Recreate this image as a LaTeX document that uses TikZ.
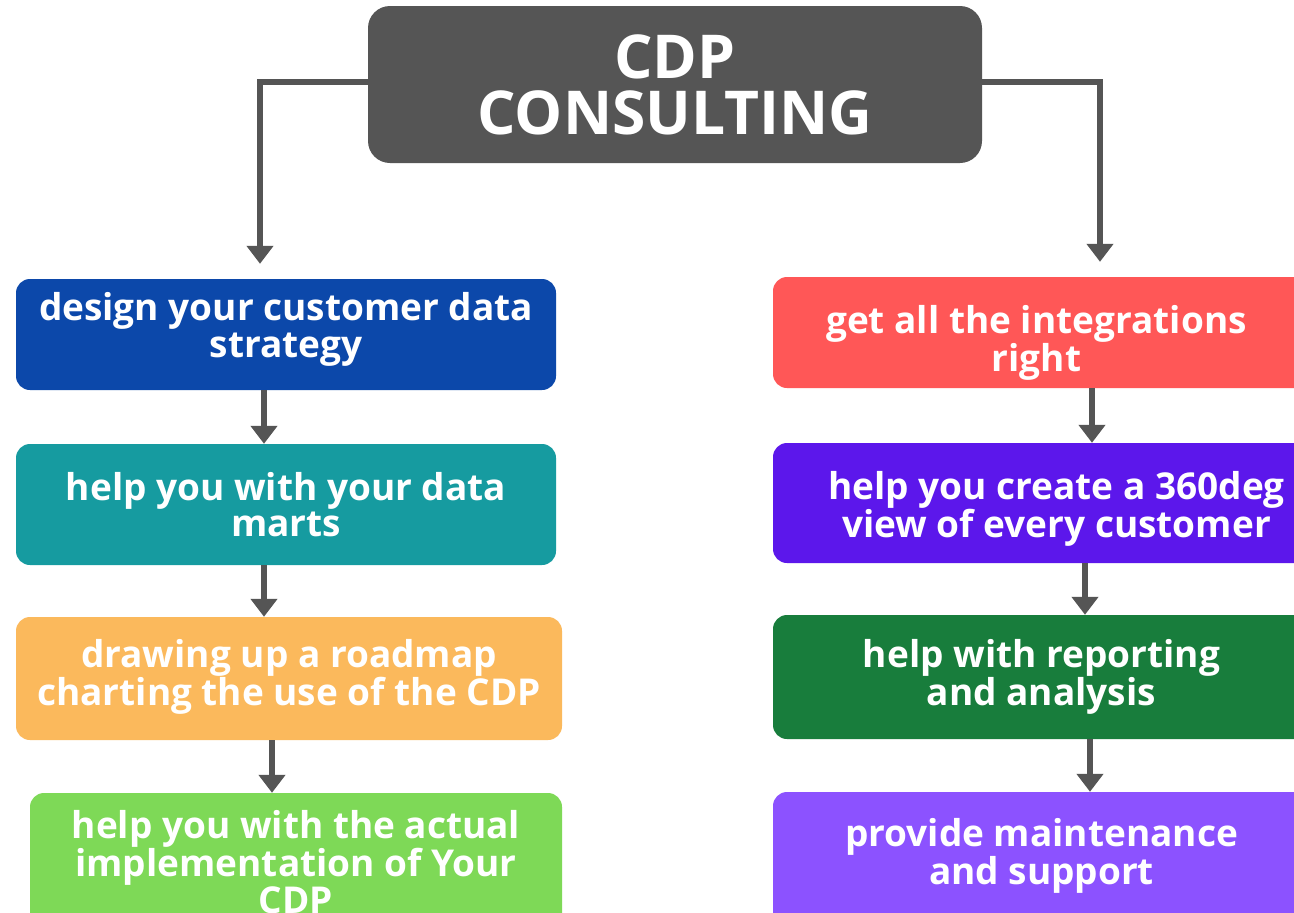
\documentclass[tikz,border=0pt]{standalone}
\usepackage{fontspec}
\setmainfont{Open Sans}
\usetikzlibrary{arrows.meta,positioning}
\definecolor{topgray}{RGB}{85,85,85}
\definecolor{cblue}{RGB}{12,72,170}
\definecolor{cteal}{RGB}{22,155,160}
\definecolor{corange}{RGB}{251,185,92}
\definecolor{cgreen}{RGB}{126,217,87}
\definecolor{cred}{RGB}{255,87,87}
\definecolor{cpurple}{RGB}{92,23,235}
\definecolor{cdkgreen}{RGB}{24,125,60}
\definecolor{cviolet}{RGB}{140,82,255}
\tikzset{
  box/.style={rounded corners=14pt, inner sep=0pt},
  lbl/.style={inner sep=0pt, align=center, text=white,
    font=\fontsize{37}{36.5}\selectfont\bfseries},
  conn/.style={draw=topgray, line width=6pt, -{Triangle[width=26pt,length=18pt]}},
}
\begin{document}
\begin{tikzpicture}[x=1pt,y=-1pt]
\useasboundingbox (0,0) rectangle (1294,913);
\clip (0,0) rectangle (1294,913);
\fill[white] (0,0) rectangle (1294,913);
\node[box, fill=topgray, rounded corners=22pt, minimum width=614pt, minimum height=157pt,
  align=center, text=white, font=\fontsize{60.5}{56}\selectfont\bfseries] (top) at (675,84.5) {CDP\\CONSULTING};
% left column
\node[box, fill=cblue, minimum width=540pt, minimum height=111pt] (L1) at (286,334.5) {};
\node[lbl] (L1t) at ([yshift=5pt]L1.center) {design your customer data\\strategy};
\node[box, fill=cteal, minimum width=540pt, minimum height=121pt] (L2) at (286,504.5) {};
\node[lbl] (L2t) at (L2.center) {help you with your data\\marts};
\node[box, fill=corange, minimum width=546pt, minimum height=123pt] (L3) at (289,678.5) {};
\node[lbl] (L3t) at ([yshift=2pt]L3.center) {drawing up a roadmap\\charting the use of the CDP};
\node[box, fill=cgreen, minimum width=532pt, minimum height=142pt] (L4) at (296,864) {};
\node[lbl] (L4t) at ([yshift=2pt]L4.center) {help you with the actual\\implementation of Your\\CDP};
% right column
\node[box, fill=cred, minimum width=537pt, minimum height=111pt] (R1) at (1041.5,332.5) {};
\node[lbl] (R1t) at ([xshift=-5pt,yshift=-10pt]R1.center) {get all the integrations\\right};
\node[box, fill=cpurple, minimum width=537pt, minimum height=120pt] (R2) at (1041.5,503) {};
\node[lbl] (R2t) at ([xshift=15pt,yshift=-6pt]R2.center) {help you create a 360deg\\view of every customer};
\node[box, fill=cdkgreen, minimum width=537pt, minimum height=124pt] (R3) at (1041.5,677) {};
\node[lbl] (R3t) at (R3.center) {help with reporting\\and analysis};
\node[box, fill=cviolet, minimum width=537pt, minimum height=143pt] (R4) at (1041.5,863.5) {};
\node[lbl] (R4t) at ([yshift=8pt]R4.center) {provide maintenance\\and support};
% connectors from the title
\draw[conn, shorten >=15pt] ([yshift=3pt]top.west) -| ([xshift=-26pt]L1.north);
\draw[conn, shorten >=15pt] ([yshift=3pt]top.east) -| ([xshift=58.5pt]R1.north);
% left chain
\draw[conn] ([xshift=-22pt]L1.south) -- ([xshift=-22pt]L1.south |- L2.north);
\draw[conn] ([xshift=-22pt]L2.south) -- ([xshift=-22pt]L2.south |- L3.north);
\draw[conn] ([xshift=-17pt]L3.south) -- ([xshift=-17pt]L3.south |- L4.north);
% right chain
\draw[conn] ([xshift=50.5pt]R1.south) -- ([xshift=50.5pt]R1.south |- R2.north);
\draw[conn] ([xshift=43.5pt]R2.south) -- ([xshift=43.5pt]R2.south |- R3.north);
\draw[conn] ([xshift=48.5pt]R3.south) -- ([xshift=48.5pt]R3.south |- R4.north);
\end{tikzpicture}
\end{document}
